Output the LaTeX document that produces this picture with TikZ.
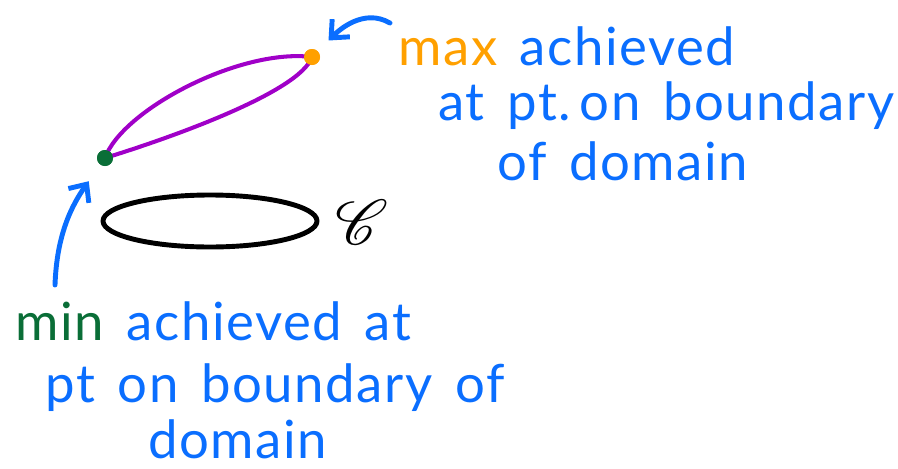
\documentclass[tikz,border=0pt]{standalone}
\usepackage{fontspec}
\setmainfont{Lato}[LetterSpace=3,WordSpace=1.5]
\usepackage{mathrsfs}
\usepackage{tikz}
\usetikzlibrary{arrows.meta}
\definecolor{penblue}{RGB}{10,110,255}
\definecolor{pengreen}{RGB}{10,110,55}
\definecolor{penorange}{RGB}{255,160,0}
\definecolor{penpurple}{RGB}{160,0,200}
\frenchspacing

\begin{document}
\begin{tikzpicture}[x=0.02cm,y=0.02cm,
	pen/.style={line width=2.8pt,line cap=round,line join=round},
	note/.style={anchor=base west,inner sep=0pt,text=penblue,font=\fontsize{30}{36}\selectfont},
	dot/.style={circle,inner sep=0pt,minimum size=0.32cm},
	>={Straight Barb[length=2.8mm,width=5mm]}]
\useasboundingbox (0,0) rectangle (898,468);

\node[dot,fill=pengreen] (mindot) at (105,310) {};
\node[dot,fill=penorange] (maxdot) at (312,411) {};
\draw[pen,line width=2.3pt,draw=penpurple] (mindot.center) .. controls (122,358) and (240,420) .. (maxdot.center)
	.. controls (300,376) and (170,330) .. (mindot.center);
\node[dot,fill=pengreen] at (mindot) {};
\node[dot,fill=penorange] at (maxdot) {};

\draw[pen] (210,247) ellipse [x radius=107,y radius=26];
\node[inner sep=0pt] (curve) at (362,246) {\scalebox{3.6}{$\mathscr{C}$}};

\node[note] (maxline) at (398,403) {{\color{penorange}max} achieved};
\node[note] (maxlinetwo) at (438,348) {at pt.\,on boundary};
\node[note] (maxlinethree) at (497,288) {of domain};

\node[note] (minline) at (15,128) {{\color{pengreen}min} achieved at};
\node[note] (minlinetwo) at (45,66) {pt on boundary of};
\node[note] (minlinethree) at (148,10) {domain};

\coordinate (maxtail) at (390,445);
\coordinate (mintail) at (55,183);
\draw[pen,penblue,->,shorten >=0.3cm] (maxtail) to[out=150,in=45] (maxdot);
\draw[pen,penblue,->,shorten >=0.4cm] (mintail) to[out=88,in=-125] (mindot);
\end{tikzpicture}
\end{document}
